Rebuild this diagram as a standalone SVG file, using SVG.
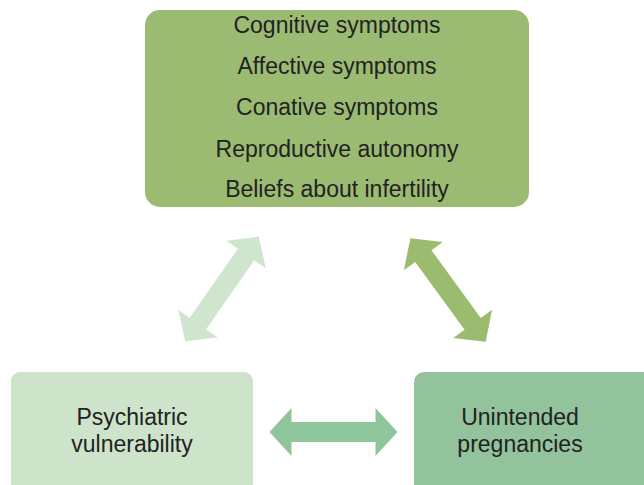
<svg xmlns="http://www.w3.org/2000/svg" width="644" height="485" viewBox="0 0 644 485">
  <defs>
    <style>
      .lbl { font-family: "Liberation Sans", Arial, sans-serif; font-size: 23px; fill: #222222; text-anchor: middle; }
    </style>
    <polygon id="dbl" points="-64,0 -42,-24 -42,-10 42,-10 42,-24 64,0 42,24 42,10 -42,10 -42,24"/>
  </defs>
  <rect width="644" height="485" fill="#ffffff"/>

  <g id="connectors">
    <use href="#dbl" fill="#cfe5cd" transform="translate(222,289) rotate(-55)"/>
    <use href="#dbl" fill="#9bbb6f" transform="translate(448,290) rotate(54)"/>
    <use href="#dbl" fill="#8fc59b" transform="translate(333.5,432)"/>
  </g>

  <g id="top-node">
    <rect x="145" y="10" width="384" height="197" rx="15" fill="#9bbb73"/>
    <text class="lbl" x="337" y="33">Cognitive symptoms</text>
    <text class="lbl" x="337" y="74">Affective symptoms</text>
    <text class="lbl" x="337" y="115">Conative symptoms</text>
    <text class="lbl" x="337" y="157">Reproductive autonomy</text>
    <text class="lbl" x="337" y="197">Beliefs about infertility</text>
  </g>

  <g id="psychiatric-node">
    <rect x="11" y="372" width="242" height="130" rx="9" fill="#cde4cb"/>
    <text class="lbl" x="132" y="425">Psychiatric</text>
    <text class="lbl" x="132" y="452">vulnerability</text>
  </g>

  <g id="pregnancies-node">
    <rect x="414" y="372" width="250" height="130" rx="10" fill="#92c39c"/>
    <text class="lbl" x="520" y="425">Unintended</text>
    <text class="lbl" x="520" y="452">pregnancies</text>
  </g>
</svg>
